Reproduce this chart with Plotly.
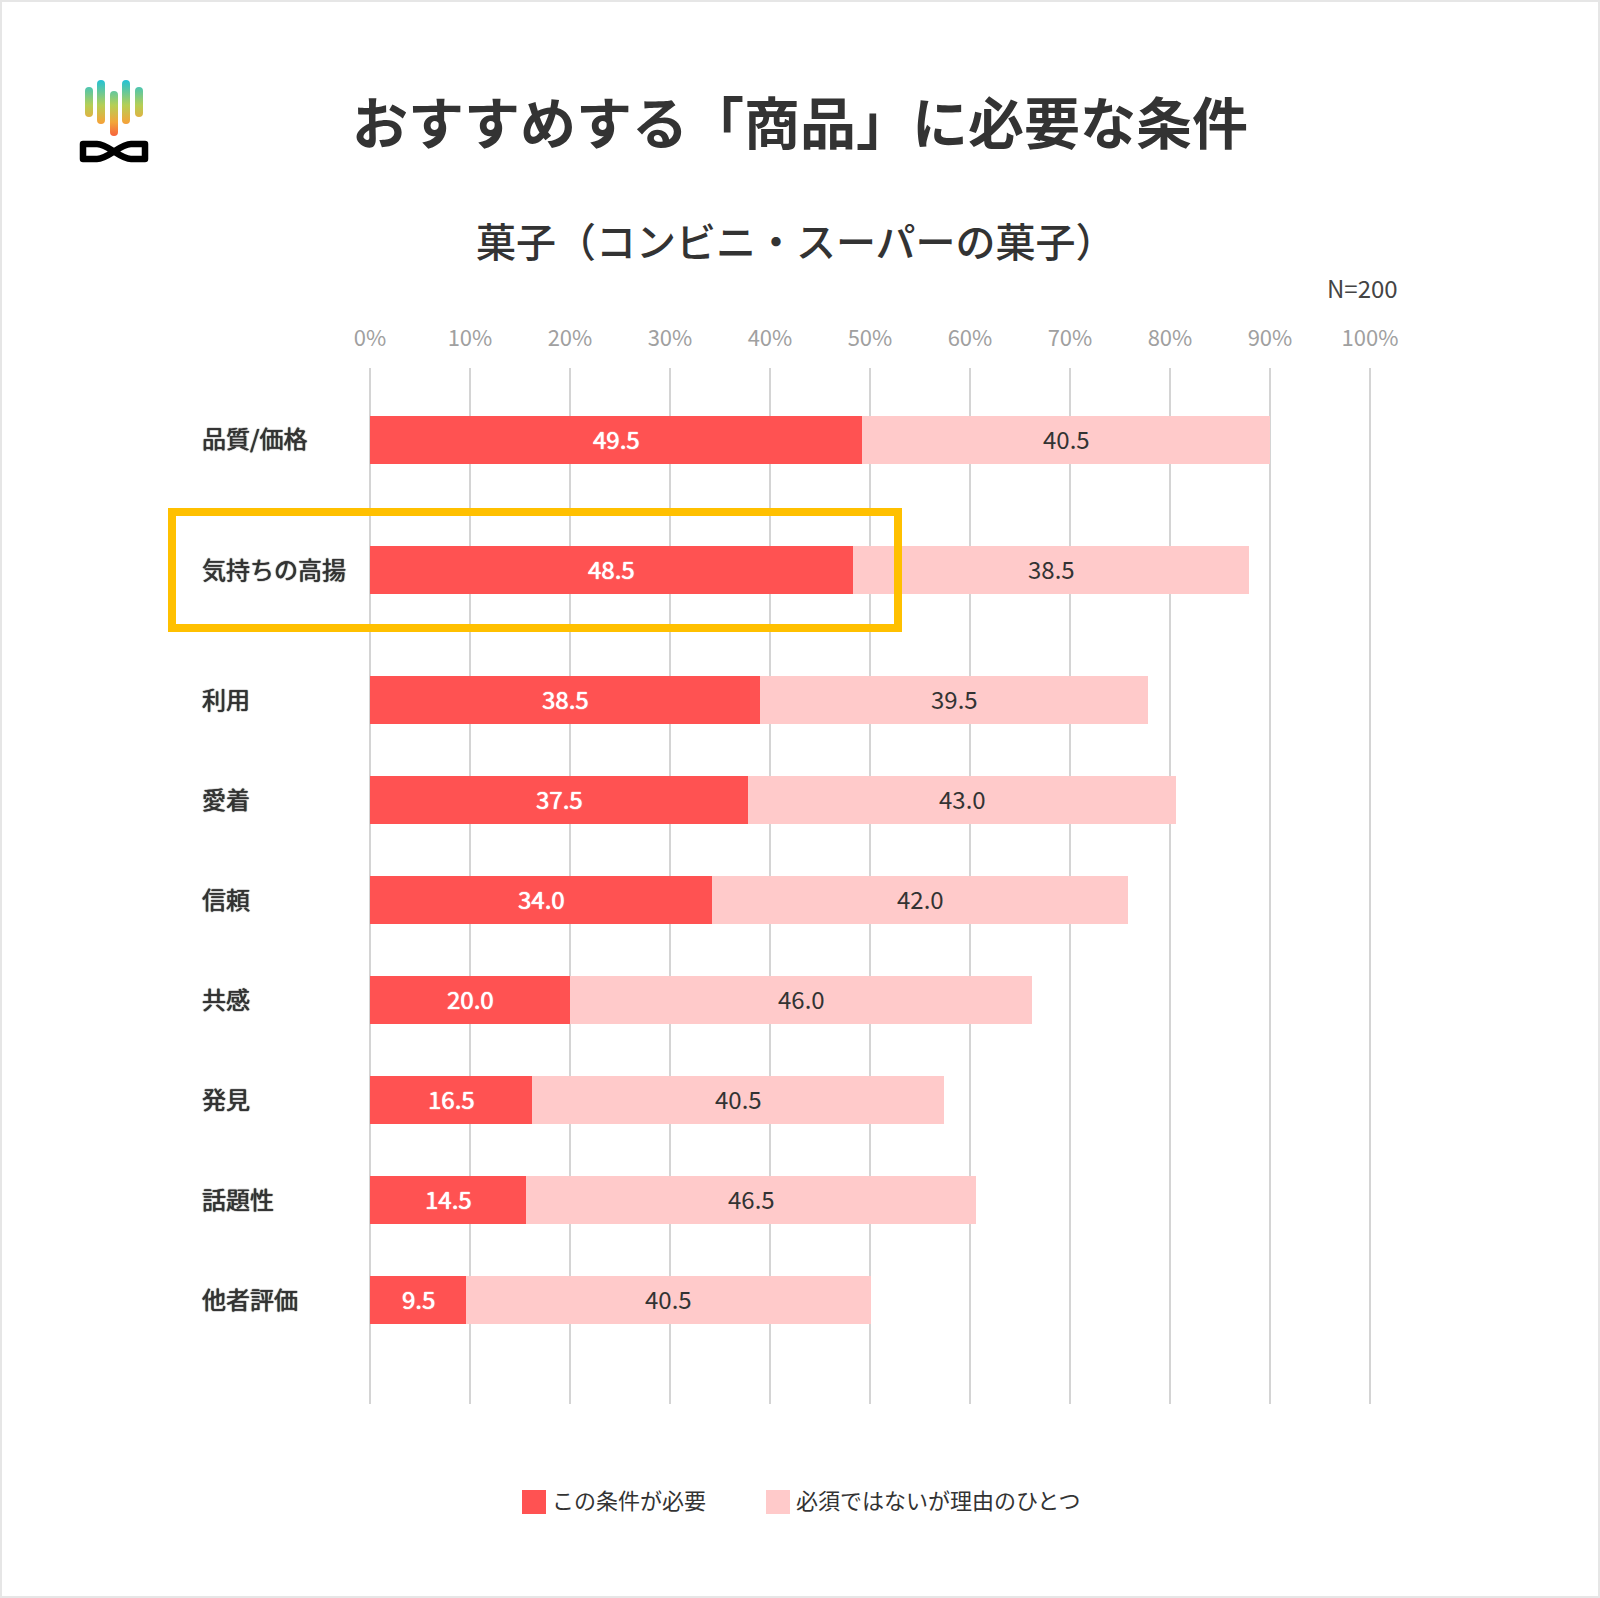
import base64
import plotly.graph_objects as go

W = 1600
H = 1598
FONT = "Noto Sans CJK JP"

title = "おすすめする「商品」に必要な条件"
subtitle = "菓子（コンビニ・スーパーの菓子）"
note = "N=200"

categories = ["品質/価格", "気持ちの高揚", "利用", "愛着", "信頼", "共感", "発見", "話題性", "他者評価"]
row_pos = [0, 1.3, 2.6, 3.6, 4.6, 5.6, 6.6, 7.6, 8.6]  # the highlighted row has more air around it

name_need = "この条件が必要"
name_reason = "必須ではないが理由のひとつ"

# printed numbers
label_need = ["49.5", "48.5", "38.5", "37.5", "34.0", "20.0", "16.5", "14.5", "9.5"]
label_reason = ["40.5", "38.5", "39.5", "43.0", "42.0", "46.0", "40.5", "46.5", "40.5"]
# bar lengths as drawn in the picture, they are a bit off from the printed numbers
drawn_need = [49.2, 48.33, 39.0, 37.8, 34.2, 20.0, 16.2, 15.6, 9.6]
drawn_reason = [40.8, 39.54, 38.8, 42.8, 41.6, 46.2, 41.2, 45.0, 40.5]

x_ticks = [0, 10, 20, 30, 40, 50, 60, 70, 80, 90, 100]
x_tick_labels = ["0%", "10%", "20%", "30%", "40%", "50%", "60%", "70%", "80%", "90%", "100%"]

RED = "#ff5252"
PINK = "#ffcaca"
DARK = "#333333"


def px(x):
    return x / W


def py(y):
    return 1 - y / H


logo_svg = """<svg xmlns="http://www.w3.org/2000/svg" viewBox="70 70 90 100" width="90" height="100">
<defs><linearGradient id="g" gradientUnits="userSpaceOnUse" x1="0" y1="80" x2="0" y2="136">
<stop offset="0" stop-color="#22c1d6"/><stop offset="0.45" stop-color="#b5cf55"/>
<stop offset="0.75" stop-color="#f2a63a"/><stop offset="1" stop-color="#f7623c"/></linearGradient></defs>
<g fill="url(#g)">
<rect x="85" y="87" width="8" height="30" rx="4"/><rect x="97" y="80" width="8" height="44" rx="4"/>
<rect x="110" y="91" width="8" height="45" rx="4"/><rect x="122" y="80" width="8" height="44" rx="4"/>
<rect x="135" y="87" width="8" height="30" rx="4"/></g>
<path d="M83 144 L97 144 C108 144 120 159 131 159 L145 159 L145 144 L131 144 C120 144 108 159 97 159 L83 159 Z"
 fill="none" stroke="#000" stroke-width="6.5" stroke-linejoin="round"/>
</svg>"""
logo_src = "data:image/svg+xml;base64," + base64.b64encode(logo_svg.encode()).decode()

fig = go.Figure()
fig.add_trace(go.Bar(
    y=row_pos, x=drawn_need, name=name_need, orientation="h", width=0.48,
    marker=dict(color=RED, line_width=0), hoverinfo="skip",
))
fig.add_trace(go.Bar(
    y=row_pos, x=drawn_reason, name=name_reason, orientation="h", width=0.48,
    marker=dict(color=PINK, line_width=0), hoverinfo="skip",
))

annotations = [
    dict(text=title, x=px(800), y=py(119), xanchor="center", font=dict(size=56, color=DARK, weight=700)),
    dict(text=subtitle, x=px(796), y=py(240), xanchor="center", font=dict(size=40, color=DARK, weight=500)),
    dict(text=note, x=px(1400), y=py(287), xanchor="right", font=dict(size=24, color="#444444")),
    dict(text=name_need, x=px(550), y=py(1499), xanchor="left", font=dict(size=22, color=DARK)),
    dict(text=name_reason, x=px(794), y=py(1499), xanchor="left", font=dict(size=22, color=DARK)),
]
for a in annotations:
    a.update(xref="paper", yref="paper", yanchor="middle", showarrow=False)
for cat, pos in zip(categories, row_pos):
    # no medium cut of the font here, a thin shadow of the same colour thickens the regular one
    annotations.append(dict(text=cat, x=px(200), y=pos, yshift=2, xref="paper", yref="y", xanchor="left",
                            yanchor="middle", showarrow=False,
                            font=dict(size=24, color=DARK, shadow="0 0 1px #333333, 0 0 1px #333333")))
# value labels in the middle of each bar segment, bar text could not be nudged up
for pos, need, reason, t_need, t_reason in zip(row_pos, drawn_need, drawn_reason, label_need, label_reason):
    annotations.append(dict(text=t_need, x=need / 2, y=pos, yshift=1.5, xref="x", yref="y", showarrow=False,
                            font=dict(size=24, color="white", shadow="0 0 1px #ffffff, 0 0 1px #ffffff")))
    annotations.append(dict(text=t_reason, x=need + reason / 2, y=pos, yshift=1.5, xref="x", yref="y",
                            showarrow=False, font=dict(size=24, color=DARK)))


def paper_rect(x0, y0, x1, y1, **kw):
    return dict(type="rect", xref="paper", yref="paper", x0=px(x0), x1=px(x1), y0=py(y0), y1=py(y1), **kw)


shapes = [
    paper_rect(1, 1, 1599, 1597, line=dict(color="#e6e6e6", width=2), fillcolor="rgba(0,0,0,0)"),
    paper_rect(172, 512, 898, 628, line=dict(color="#ffc000", width=8), fillcolor="rgba(0,0,0,0)"),
    paper_rect(522, 1490, 546, 1514, line_width=0, fillcolor=RED),
    paper_rect(766, 1490, 790, 1514, line_width=0, fillcolor=PINK),
]

fig.update_layout(
    width=W, height=H,
    barmode="stack",
    showlegend=False,
    paper_bgcolor="white",
    plot_bgcolor="white",
    font=dict(family=FONT, color=DARK),
    margin=dict(l=0, r=0, t=0, b=0),
    annotations=annotations,
    shapes=shapes,
    images=[dict(source=logo_src, xref="paper", yref="paper", x=px(70), y=py(70),
                 sizex=90 / W, sizey=100 / H, xanchor="left", yanchor="top",
                 sizing="stretch", layer="above")],
    xaxis=dict(
        # a little past 100 so the last gridline is kept
        domain=[px(370), px(1371)], range=[0, 100.1], side="top", automargin=False,
        tickmode="array", tickvals=x_ticks, ticktext=x_tick_labels,
        tickfont=dict(size=22, color="#a0a0a0", family=FONT),
        ticks="", ticklabelstandoff=17,
        showgrid=True, gridcolor="#d4d4d4", gridwidth=2,
        zeroline=True, zerolinecolor="#d4d4d4", zerolinewidth=2, showline=False,
    ),
    yaxis=dict(
        domain=[py(1404), py(368)], range=[9.64, -0.72], automargin=False,
        showticklabels=False, showgrid=False, zeroline=False, showline=False, ticks="",
    ),
)

fig.write_html(
    "out.html",
    config={"displayModeBar": False, "responsive": False},
    post_script="document.body.style.margin='0';document.documentElement.style.overflow='hidden';",
)
